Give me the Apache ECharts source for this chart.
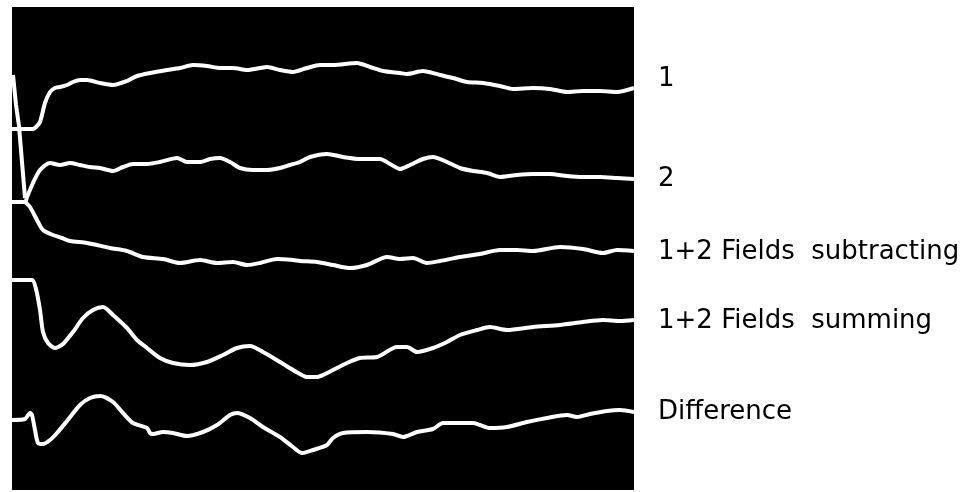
<!DOCTYPE html>
<html>
<head>
<meta charset="utf-8">
<script src="https://cdn.jsdelivr.net/npm/echarts@6/dist/echarts.min.js"></script>
<style>
  html, body { margin: 0; padding: 0; background: #fff; }
  #main { width: 976px; height: 492px; }
</style>
</head>
<body>
<div id="main"></div>
<script>
// sweep position (x) and trace level (y)
var trace1 = [[0,361],[21,361],[24,363],[28,368],[33,387],[38,398],[43,402],[48,403],[55,405],[61,408],[68,410],[75,410],[88,407],[101,405],[115,409],[125,414],[138,417],[155,420],[168,422],[181,425],[195,424],[208,422],[221,422],[235,420],[248,422],[255,423],[268,420],[281,418],[295,422],[308,425],[321,425],[345,427],[358,423],[371,419],[388,417],[395,416],[411,419],[428,415],[441,412],[455,408],[471,407],[488,404],[501,401],[521,402],[538,401],[555,398],[571,399],[588,399],[605,398],[622,402]];

var trace2 = [[0,288],[13,288],[15,293],[21,307],[28,320],[38,327],[48,325],[58,327],[68,325],[78,323],[88,322],[101,319],[111,323],[121,326],[135,326],[148,328],[165,332],[175,328],[188,328],[198,331],[208,332],[218,328],[228,322],[241,320],[255,320],[268,322],[278,325],[288,328],[298,333],[315,336],[331,333],[348,331],[368,331],[378,326],[388,321],[398,325],[411,331],[421,333],[435,328],[448,322],[461,319],[475,317],[488,313],[505,315],[521,316],[538,316],[555,314],[571,313],[588,313],[605,312],[622,311]];

var subtracting = [[13,288],[18,283],[25,270],[31,260],[41,255],[50,252],[58,249],[75,247],[98,242],[115,239],[131,233],[151,231],[168,227],[188,230],[205,227],[221,228],[235,225],[248,227],[265,231],[281,230],[288,229],[305,228],[321,225],[338,222],[355,225],[375,233],[388,231],[401,232],[415,227],[428,229],[448,233],[468,236],[488,240],[505,240],[521,239],[548,243],[571,241],[591,237],[605,240],[622,239]];

var summing = [[0,210],[20,210],[24,201],[28,180],[31,158],[36,147],[43,142],[51,146],[61,158],[71,172],[81,180],[91,183],[101,175],[115,162],[125,150],[135,142],[148,132],[161,127],[178,125],[195,128],[211,135],[225,142],[238,144],[251,138],[268,128],[281,120],[288,116],[295,113],[305,113],[311,115],[321,120],[335,127],[348,132],[365,133],[385,143],[395,143],[405,138],[421,142],[435,148],[448,155],[465,160],[478,163],[495,160],[521,163],[548,165],[571,168],[591,170],[608,169],[622,170]];

var difference = [[0,70],[13,71],[18,77],[20,75],[23,60],[26,47],[31,46],[38,50],[45,57],[55,69],[68,85],[78,92],[88,94],[101,88],[111,77],[121,67],[135,62],[138,57],[141,56],[151,58],[161,57],[175,54],[191,58],[205,65],[218,75],[225,77],[238,72],[251,63],[268,53],[281,43],[290,37],[301,40],[315,45],[321,52],[331,57],[355,58],[381,56],[391,53],[405,58],[421,61],[431,67],[448,67],[461,67],[468,65],[478,62],[495,63],[515,68],[535,72],[555,75],[565,73],[578,76],[595,79],[608,80],[622,78]];

// retrace stroke at the start of the sweep
var retrace = [[1,415],[4,385],[7,364],[13,292]];

var traceNames = ['1', '2', '1+2 Fields  subtracting', '1+2 Fields  summing', 'Difference'];
var traceData = [trace1, trace2, subtracting, summing, difference];
var labelShift = [-9, 0, 1, 1, 0];

var chartDom = document.getElementById('main');
var myChart = echarts.init(chartDom);

var series = traceData.map(function (d, i) {
    return {
        name: traceNames[i],
        type: 'line',
        data: d,
        smooth: 0.25,
        showSymbol: false,
        symbol: 'none',
        lineStyle: { color: '#fff', width: 4 },
        endLabel: {
            show: true,
            formatter: '{a}',
            color: '#000',
            fontFamily: 'DejaVu Sans',
            fontSize: 26,
            distance: 24,
            offset: [0, labelShift[i]]
        }
    };
});

series.push({
    name: 'retrace',
    type: 'line',
    data: retrace,
    showSymbol: false,
    symbol: 'none',
    lineStyle: { color: '#fff', width: 4 }
});

var option = {
    animation: false,
    backgroundColor: '#fff',
    grid: {
        left: 12,
        right: 342,
        top: 7,
        bottom: 2,
        show: true,
        backgroundColor: '#000',
        borderWidth: 0
    },
    xAxis: {
        type: 'value',
        min: 0,
        max: 622,
        show: false
    },
    yAxis: {
        type: 'value',
        min: 0,
        max: 483,
        show: false
    },
    series: series
};

myChart.setOption(option);
</script>
</body>
</html>
